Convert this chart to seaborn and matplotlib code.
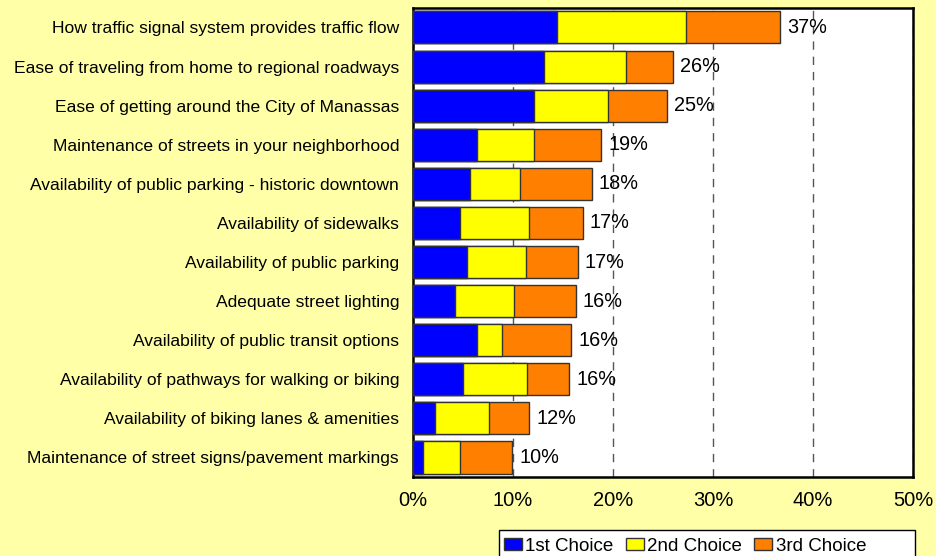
import numpy as np
import pandas as pd
import seaborn as sns
import matplotlib.pyplot as plt
from matplotlib.patches import Patch, Rectangle
from matplotlib.ticker import PercentFormatter

items = [
    "How traffic signal system provides traffic flow",
    "Ease of traveling from home to regional roadways",
    "Ease of getting around the City of Manassas",
    "Maintenance of streets in your neighborhood",
    "Availability of public parking - historic downtown",
    "Availability of sidewalks",
    "Availability of public parking",
    "Adequate street lighting",
    "Availability of public transit options",
    "Availability of pathways for walking or biking",
    "Availability of biking lanes & amenities",
    "Maintenance of street signs/pavement markings",
]
first_choice = [14.4, 13.1, 12.1, 6.4, 5.7, 4.7, 5.4, 4.2, 6.4, 5.05, 2.25, 1.05]
second_choice = [12.9, 8.2, 7.4, 5.7, 5.0, 6.9, 5.9, 5.9, 2.5, 6.35, 5.35, 3.65]
third_choice = [9.4, 4.7, 5.9, 6.75, 7.2, 5.4, 5.2, 6.2, 6.95, 4.25, 4.05, 5.25]
total_labels = ["37%", "26%", "25%", "19%", "18%", "17%", "17%", "16%", "16%", "16%", "12%", "10%"]

series_names = ["1st Choice", "2nd Choice", "3rd Choice"]
colors = ["#0000FF", "#FFFF00", "#FF8000"]
bg = "#FFFFA8"

df = pd.DataFrame({
    "item": items,
    "c1": first_choice,
    "c2": second_choice,
    "c3": third_choice,
})
df["cum1"] = df.c1
df["cum2"] = df.c1 + df.c2
df["cum3"] = df.c1 + df.c2 + df.c3

plt.rcParams["font.family"] = ["Liberation Sans", "DejaVu Sans"]

fig = plt.figure(figsize=(9.36, 5.56), dpi=100, facecolor=bg)
ax = fig.add_axes([0.4412, 0.142, 0.5342, 0.8438])
ax.set_facecolor("white")

# layered cumulative bars: longest first so shorter ones sit on top
for col, color in zip(["cum3", "cum2", "cum1"], colors[::-1]):
    sns.barplot(data=df, x=col, y="item", order=items, color=color,
                width=0.82, edgecolor="#333333", linewidth=1.0,
                saturation=1, ax=ax, zorder=3)

for i, (val, lab) in enumerate(zip(df.cum3, total_labels)):
    ax.text(val + 0.7, i, lab, va="center", ha="left", fontsize=14.3, color="black", zorder=4)

ax.set_xlim(0, 50)
ax.set_ylim(len(items) - 0.5, -0.5)
ax.set_xticks([0, 10, 20, 30, 40, 50])
ax.xaxis.set_major_formatter(PercentFormatter(decimals=0))
ax.set_xlabel("")
ax.set_ylabel("")
ax.tick_params(axis="x", labelsize=14.5, length=0, pad=10, colors="black")
ax.tick_params(axis="y", labelsize=12.6, length=0, pad=10, colors="black")
ax.xaxis.grid(True, linestyle=(0, (6, 5)), color="#555555", linewidth=1.0, zorder=0)
ax.yaxis.grid(False)
ax.set_axisbelow(True)
for s in ax.spines.values():
    s.set_color("black")
    s.set_linewidth(1.8)

# legend box is wider than its entries, as in the original
fig.patches.append(Rectangle((499 / 936, -0.05), 416 / 936, 0.05 + 26 / 556,
                             transform=fig.transFigure, facecolor="white",
                             edgecolor="black", linewidth=1.0, zorder=1))
handles = [Patch(facecolor=c, edgecolor="#333333", linewidth=1.0) for c in colors]
fig.legend(handles, series_names, loc="upper left", bbox_to_anchor=(0.534, 0.040),
           ncol=3, fontsize=13.5, frameon=False,
           handlelength=0.96, handleheight=0.6,
           handletextpad=0.2, columnspacing=0.64, borderpad=0.2, borderaxespad=0)

fig.savefig("out.png", dpi=100, facecolor=bg)
